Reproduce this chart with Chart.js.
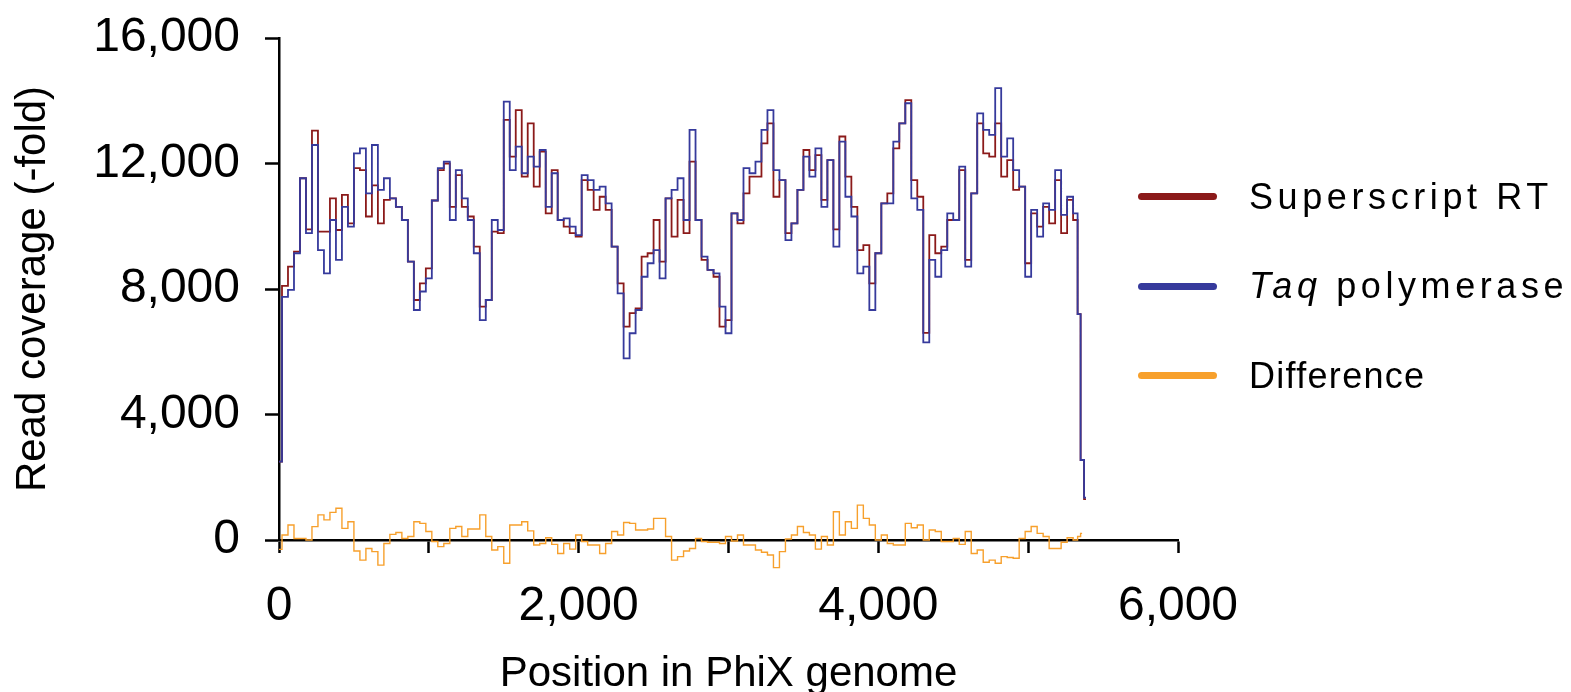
<!DOCTYPE html>
<html>
<head>
<meta charset="utf-8">
<script src="https://cdn.jsdelivr.net/npm/chart.js@4.4.1/dist/chart.umd.min.js"></script>
<style>
  body { margin: 0; background: #fff; }
  #wrap { position: relative; width: 1571px; height: 692px; }
  #legend {
    position: absolute; left: 1138px; top: 152px;
    font-family: "Liberation Sans", Arial, sans-serif; font-size: 36px; color: #000;
  }
  .item { display: flex; align-items: center; height: 89.5px; white-space: nowrap; }
  .swatch { width: 79px; height: 7px; border-radius: 4px; margin-right: 32px; flex: none; }
  .txt { line-height: 1; }
</style>
</head>
<body>
<div id="wrap">
  <canvas id="coverageChart" width="1571" height="692"></canvas>
  <div id="legend"></div>
</div>
<script>
// position in PhiX genome (bp)
const positions = [
  0, 40, 80, 120, 160, 200, 240, 280, 320, 360,
  400, 440, 480, 520, 560, 600, 640, 680, 720, 760,
  800, 840, 880, 920, 960, 1000, 1040, 1080, 1120, 1160,
  1200, 1240, 1280, 1320, 1360, 1400, 1440, 1480, 1520, 1560,
  1600, 1640, 1680, 1720, 1760, 1800, 1840, 1880, 1920, 1960,
  2000, 2040, 2080, 2120, 2160, 2200, 2240, 2280, 2320, 2360,
  2400, 2440, 2480, 2520, 2560, 2600, 2640, 2680, 2720, 2760,
  2800, 2840, 2880, 2920, 2960, 3000, 3040, 3080, 3120, 3160,
  3200, 3240, 3280, 3320, 3360, 3400, 3440, 3480, 3520, 3560,
  3600, 3640, 3680, 3720, 3760, 3800, 3840, 3880, 3920, 3960,
  4000, 4040, 4080, 4120, 4160, 4200, 4240, 4280, 4320, 4360,
  4400, 4440, 4480, 4520, 4560, 4600, 4640, 4680, 4720, 4760,
  4800, 4840, 4880, 4920, 4960, 5000, 5040, 5080, 5120, 5160,
  5200, 5240, 5280, 5320, 5340, 5360, 5386
];

const superscriptRT = [
  2500, 8100, 8710, 9190, 11530, 9900, 13050, 9830, 9830, 10890,
  9880, 11000, 10090, 11850, 11790, 10310, 11300, 10090, 10840, 10890,
  10620, 10200, 8870, 7650, 8180, 8660, 10820, 11790, 12000, 10620,
  11630, 10620, 10310, 9350, 7440, 7650, 9830, 9780, 13390, 12220,
  13700, 11580, 13280, 11260, 12380, 10410, 11790, 10200, 9990, 9780,
  9670, 11470, 11160, 10520, 10940, 10520, 9350, 8180, 6800, 7230,
  7380, 9030, 9140, 10200, 8870, 10890, 9670, 10840, 9780, 12060,
  10200, 8930, 8610, 8390, 6800, 7010, 10410, 10090, 11050, 11580,
  11580, 12640, 13280, 10940, 11470, 9780, 10090, 11160, 12430, 11790,
  12270, 10840, 12110, 9900, 12860, 11580, 10620, 9240, 9400, 8180,
  9140, 10730, 11050, 12480, 13280, 14020, 11470, 10940, 6600, 9720,
  9140, 9350, 10200, 10200, 11790, 8930, 11050, 13280, 12320, 12220,
  13280, 11580, 12110, 11160, 11260, 8820, 10410, 9990, 10620, 10090,
  11470, 9780, 10840, 10200, 7200, 2550, 1300
];

const taqPolymerase = [
  2500, 7750, 7970, 9140, 11530, 9780, 12590, 9240, 8500, 10200,
  8930, 10620, 9990, 12320, 12480, 11050, 12590, 11160, 11530, 10890,
  10620, 10200, 8870, 7330, 7920, 8340, 10820, 11850, 12060, 10200,
  11790, 10890, 10200, 9140, 7010, 7650, 10200, 9880, 13970, 11790,
  12540, 11690, 12220, 11900, 12430, 10620, 11690, 10200, 10250, 9990,
  9720, 11630, 11470, 11160, 11260, 10730, 9350, 7860, 5790, 6590,
  7330, 8390, 8820, 9240, 8340, 10890, 11160, 11530, 10200, 13070,
  10200, 9030, 8610, 8500, 7440, 6590, 10410, 10200, 11850, 11690,
  12060, 13070, 13700, 11790, 11470, 9560, 10090, 11160, 12220, 11580,
  12480, 10620, 12110, 9350, 12700, 10940, 10310, 8500, 8710, 7330,
  9140, 10730, 10730, 12700, 13280, 13920, 10890, 10520, 6300, 8930,
  8390, 9240, 10410, 10200, 11900, 8710, 11050, 13600, 13070, 12910,
  14400, 12220, 12800, 11790, 11260, 8390, 10520, 9670, 10730, 10520,
  11790, 10360, 10940, 10410, 7200, 2550, 1350
];

const difference = [
  -300, 160, 480, 50, 50, 0, 425, 800, 640, 880,
  1010, 370, 580, -350, -640, -270, -370, -800, -110, 180,
  240, 50, 110, 580, 530, 270, -50, -210, -110, 370,
  430, 110, 350, 350, 800, 110, -320, -210, -740, 480,
  480, 580, 290, -160, -110, 70, -140, -430, -110, -290,
  160, -50, -160, -160, -430, -110, 270, 160, 560, 530,
  320, 320, 350, 690, 690, 110, -640, -530, -350, -270,
  50, -50, -70, -70, -110, 110, -30, 160, -160, -160,
  -320, -390, -480, -880, -370, 30, 160, 430, 240, 160,
  -290, 110, -160, 900, 160, 580, 370, 1110, 690, 480,
  0, 160, -110, -160, -160, 530, 390, 480, 0, 320,
  270, -50, -50, 50, -140, 270, -430, -320, -710, -640,
  -740, -530, -560, -580, 50, 270, 430, 210, 110, -270,
  -270, -70, 70, 0, 110, 210, null
];

const seriesLabels = ['Superscript RT', 'Taq polymerase', 'Difference'];
const seriesColors = ['#8b1a1a', '#363a9c', '#f7a02c'];

const xTickValues = [0, 1000, 2000, 3000, 4000, 5000, 6000];
const xTickLabels = ['0', '', '2,000', '', '4,000', '', '6,000'];
const yTickValues = [0, 4000, 8000, 12000, 16000];
const yTickLabels = ['0', '4,000', '8,000', '12,000', '16,000'];

Chart.defaults.font.family = '"Liberation Sans", Arial, sans-serif';
Chart.defaults.color = '#000';

function toPoints(values) {
    return positions.map((x, i) => ({ x: x, y: values[i] }));
}

const seriesValues = [superscriptRT, taqPolymerase, difference];
const drawOrder = [1, 0, 2];   // Taq on top of Superscript, Difference underneath
const lineWidths = [1.8, 1.8, 1.4];

const ctx = document.getElementById('coverageChart').getContext('2d');

const chart = new Chart(ctx, {
    type: 'line',
    data: {
        datasets: seriesValues.map((values, i) => ({
            label: seriesLabels[i],
            data: toPoints(values),
            borderColor: seriesColors[i],
            backgroundColor: seriesColors[i],
            borderWidth: lineWidths[i],
            stepped: 'middle',
            pointRadius: 0,
            fill: false,
            clip: false,
            order: drawOrder[i]
        }))
    },
    options: {
        responsive: false,
        animation: false,
        devicePixelRatio: 1,
        layout: { padding: { left: 0, right: 393, top: 38, bottom: 0 } },
        plugins: {
            legend: { display: false },
            tooltip: { enabled: false }
        },
        scales: {
            x: {
                type: 'linear',
                min: 0,
                max: 6000,
                afterBuildTicks: scale => { scale.ticks = xTickValues.map(v => ({ value: v })); },
                afterFit: scale => { scale.height = 152; },
                ticks: {
                    autoSkip: false,
                    maxRotation: 0,
                    padding: 25,
                    font: { size: 48 },
                    callback: (value, index) => xTickLabels[index]
                },
                grid: { drawOnChartArea: false, tickLength: 13, tickWidth: 2.5, tickColor: '#000' },
                border: { display: true, color: '#000', width: 2.5 },
                title: {
                    display: true,
                    text: 'Position in PhiX genome',
                    font: { size: 42 },
                    padding: { top: 0, bottom: -8 }
                }
            },
            y: {
                min: 0,
                max: 16000,
                afterBuildTicks: scale => { scale.ticks = yTickValues.map(v => ({ value: v })); },
                afterFit: scale => {
                    scale.width = 279;
                    // keep the plot top at the layout padding, not pushed down by the label padding
                    scale.paddingTop = 0;
                    scale.paddingBottom = 0;
                },
                ticks: {
                    padding: 25,
                    font: { size: 48 },
                    callback: (value, index) => yTickLabels[index]
                },
                grid: { drawOnChartArea: false, tickLength: 14, tickWidth: 2.5, tickColor: '#000' },
                border: { display: true, color: '#000', width: 2.5 },
                title: {
                    display: true,
                    text: 'Read coverage (-fold)',
                    font: { size: 42 },
                    padding: { top: 8, bottom: 0 }
                }
            }
        }
    }
});

// legend on the right, built from the datasets
const legendEl = document.getElementById('legend');
chart.data.datasets.forEach((ds, i) => {
    const item = document.createElement('div');
    item.className = 'item';
    const swatch = document.createElement('span');
    swatch.className = 'swatch';
    swatch.style.background = ds.borderColor;
    const txt = document.createElement('span');
    txt.className = 'txt';
    txt.style.letterSpacing = i < 2 ? '4.6px' : '1.3px';
    if (ds.label.startsWith('Taq ')) {
        const it = document.createElement('i');
        it.textContent = 'Taq';
        txt.appendChild(it);
        txt.appendChild(document.createTextNode(ds.label.slice(3)));
    } else {
        txt.textContent = ds.label;
    }
    item.appendChild(swatch);
    item.appendChild(txt);
    legendEl.appendChild(item);
});
</script>
</body>
</html>
